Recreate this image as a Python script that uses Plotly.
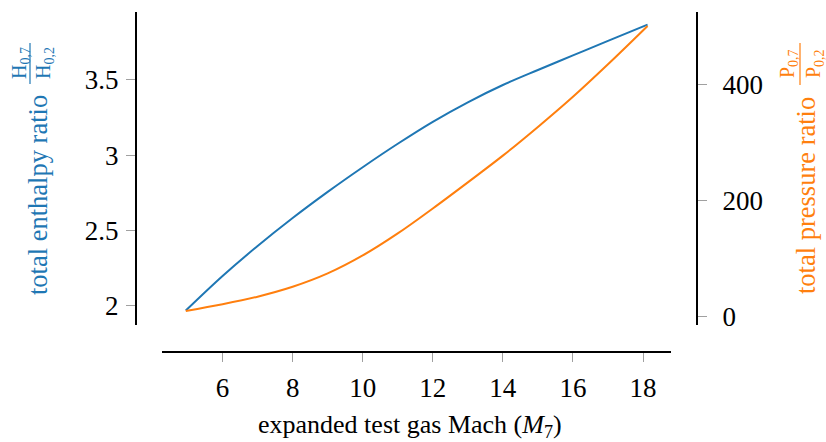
import plotly.graph_objects as go

# ---- data ----
mach = [4.95, 6, 7, 8, 9, 10, 11, 12, 13, 14, 15, 16, 17, 18.13]
enthalpy_ratio = [1.965, 2.195, 2.395, 2.581, 2.755, 2.919, 3.075, 3.221, 3.351, 3.466, 3.566, 3.663, 3.760, 3.868]
pressure_ratio = [10, 21.5, 34.5, 51.5, 74.5, 105.5, 143.5, 186.5, 231.5, 277.5, 327, 379, 435, 501]

x_ticks = [6, 8, 10, 12, 14, 16, 18]
y1_ticks = [2, 2.5, 3, 3.5]
y1_ticktext = ["2", "2.5", "3", "3.5"]
y2_ticks = [0, 200, 400]

BLUE = "#1f77b4"
ORANGE = "#ff7f0e"
FONT = "Liberation Serif"

W, H = 826, 442
ML, MR, MT, MB = 136, 129, 12, 90
PW = W - ML - MR
PH = H - MT - MB


def px_x(p):
    return (p - ML) / PW


def px_y(p):
    return (H - MB - p) / PH


fig = go.Figure()
fig.add_trace(go.Scatter(x=mach, y=enthalpy_ratio, mode="lines",
                         line=dict(color=BLUE, width=2, shape="spline", smoothing=1.0),
                         yaxis="y", showlegend=False))
fig.add_trace(go.Scatter(x=mach, y=pressure_ratio, mode="lines",
                         line=dict(color=ORANGE, width=2, shape="spline", smoothing=1.0),
                         yaxis="y2", showlegend=False))

axis_common = dict(showgrid=False, zeroline=False, showline=True, linecolor="black",
                   linewidth=2, ticks="outside", ticklen=9, tickwidth=1,
                   tickcolor="#a0a0a0", tickfont=dict(family=FONT, size=27, color="black"))

fig.update_layout(
    width=W, height=H,
    margin=dict(l=ML, r=MR, t=MT, b=MB),
    plot_bgcolor="white", paper_bgcolor="white",
    font=dict(family=FONT, size=26, color="black"),
    xaxis=dict(domain=[px_x(162.3), px_x(670.7)], range=[4.28, 18.79],
               anchor="free", position=0, tickvals=x_ticks, ticklabelstandoff=3,
               **axis_common),
    yaxis=dict(domain=[px_y(325), 1], range=[1.869, 3.952], anchor="free", position=0,
               tickvals=y1_ticks, ticktext=y1_ticktext, ticklabelstandoff=2, **axis_common),
    yaxis2=dict(domain=[px_y(325), 1], range=[-14.3, 525], anchor="free", position=1,
                overlaying="y", side="right", tickvals=y2_ticks, ticklabelstandoff=10,
                **axis_common),
)

ann = []
# x axis title
ann.append(dict(text="expanded test gas Mach (<i>M</i><sub>7</sub>)", x=px_x(410), y=px_y(426),
                font=dict(family=FONT, size=26, color="black")))
# left title
ann.append(dict(text="total enthalpy ratio", x=px_x(38), y=px_y(195), textangle=-90,
                font=dict(family=FONT, size=26.5, color=BLUE)))
ann.append(dict(text="H<sub>0,7</sub>", x=px_x(20), y=px_y(63), textangle=-90,
                font=dict(family=FONT, size=20, color=BLUE)))
ann.append(dict(text="H<sub>0,2</sub>", x=px_x(44), y=px_y(63), textangle=-90,
                font=dict(family=FONT, size=20, color=BLUE)))
# right title
ann.append(dict(text="total pressure ratio", x=px_x(806), y=px_y(196), textangle=-90,
                font=dict(family=FONT, size=26.5, color=ORANGE)))
ann.append(dict(text="P<sub>0,7</sub>", x=px_x(788), y=px_y(64), textangle=-90,
                font=dict(family=FONT, size=20, color=ORANGE)))
ann.append(dict(text="P<sub>0,2</sub>", x=px_x(814), y=px_y(64), textangle=-90,
                font=dict(family=FONT, size=20, color=ORANGE)))
for a in ann:
    a.update(xref="paper", yref="paper", xanchor="center", yanchor="middle", showarrow=False)
fig.update_layout(annotations=ann)

fig.add_shape(type="line", xref="paper", yref="paper", x0=px_x(30), x1=px_x(30),
              y0=px_y(43), y1=px_y(84), line=dict(color=BLUE, width=1.2))
fig.add_shape(type="line", xref="paper", yref="paper", x0=px_x(800), x1=px_x(800),
              y0=px_y(43), y1=px_y(85), line=dict(color=ORANGE, width=1.2))

fig.write_html("out.html")
